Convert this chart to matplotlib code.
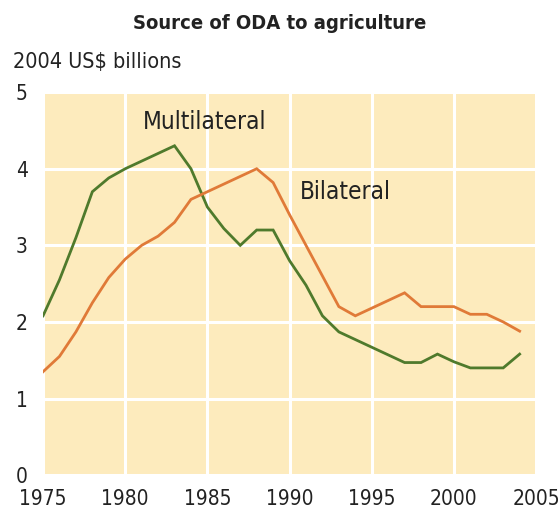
import matplotlib

matplotlib.use("Agg", force=True)
import matplotlib.pyplot as plt

years = list(range(1975, 2005))
multilateral = [2.08, 2.55, 3.1, 3.7, 3.88, 4.0, 4.1, 4.2, 4.3, 4.0,
                3.5, 3.22, 3.0, 3.2, 3.2, 2.8, 2.48, 2.08, 1.87, 1.77,
                1.67, 1.57, 1.47, 1.47, 1.58, 1.48, 1.4, 1.4, 1.4, 1.58]
bilateral = [1.35, 1.55, 1.87, 2.25, 2.58, 2.82, 3.0, 3.12, 3.3, 3.6,
             3.7, 3.8, 3.9, 4.0, 3.82, 3.4, 3.0, 2.6, 2.2, 2.08,
             2.18, 2.28, 2.38, 2.2, 2.2, 2.2, 2.1, 2.1, 2.0, 1.88]
x_ticks = [1975, 1980, 1985, 1990, 1995, 2000, 2005]
y_ticks = [0, 1, 2, 3, 4, 5]

FONT = ["DejaVu Sans"]
STRETCH = "condensed"
TEXT = "#222222"
GREEN = "#4f7a2c"
ORANGE = "#e07a38"
BG = "#fdebbd"

fig = plt.figure(figsize=(5.59, 5.12), dpi=100)
ax = fig.add_axes([0.077, 0.072, 0.882, 0.748])
ax.set_facecolor(BG)

ax.plot(years, multilateral, color=GREEN, lw=2.0, solid_joinstyle="miter")
ax.plot(years, bilateral, color=ORANGE, lw=2.0, solid_joinstyle="miter")

ax.set_xlim(1975, 2005)
ax.set_ylim(0, 5)
ax.set_xticks(x_ticks)
ax.set_yticks(y_ticks)
ax.set_xticklabels([str(t) for t in x_ticks], family=FONT, stretch=STRETCH,
                   fontsize=15, color=TEXT)
ax.set_yticklabels([str(t) for t in y_ticks], family=FONT, stretch=STRETCH,
                   fontsize=15, color=TEXT)
ax.tick_params(axis="x", length=0, pad=10)
ax.tick_params(axis="y", length=0, pad=11)
for s in ax.spines.values():
    s.set_visible(False)
ax.grid(True, color="white", lw=2.2)
ax.set_axisbelow(True)

ax.text(1981.1, 4.61, "Multilateral", family=FONT, stretch=STRETCH, fontsize=17.5,
        color=TEXT, va="center")
ax.text(1990.6, 3.69, "Bilateral", family=FONT, stretch=STRETCH, fontsize=17.5,
        color=TEXT, va="center")

fig.text(0.5, 0.955, "Source of ODA to agriculture", family=FONT, stretch=STRETCH,
         fontsize=14.5, fontweight="bold", color=TEXT, ha="center", va="center")
fig.text(0.023, 0.879, "2004 US$ billions", family=FONT, stretch=STRETCH,
         fontsize=15.5, color=TEXT, ha="left", va="center")

fig.savefig("out.png", dpi=100)
